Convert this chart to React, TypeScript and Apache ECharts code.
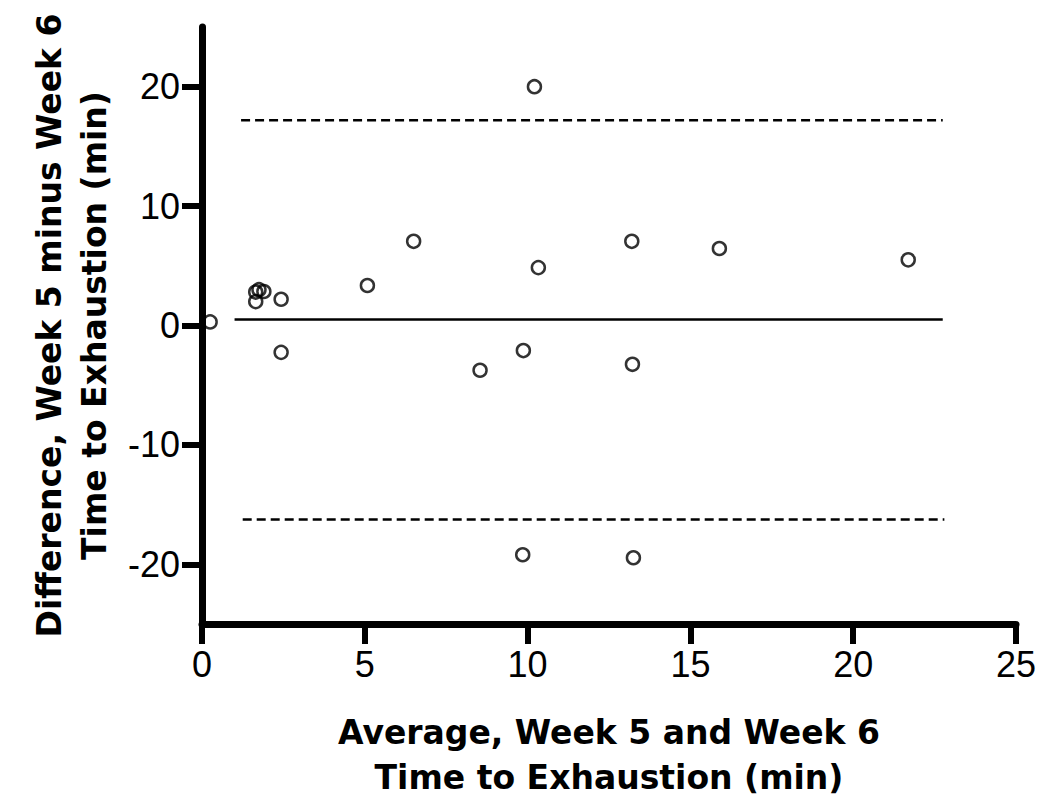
import React, { useEffect, useRef } from "react";
import * as echarts from "echarts";

const avgValues = [0.25, 1.65, 1.65, 1.75, 1.9, 2.43, 2.43, 5.08, 6.5, 8.54, 9.87, 10.21, 10.33, 13.2, 13.22, 15.89, 21.69, 9.85, 13.25];
const diffValues = [0.3, 2.0, 2.8, 3.0, 2.85, 2.2, -2.25, 3.35, 7.05, -3.75, -2.1, 20.0, 4.85, 7.05, -3.25, 6.45, 5.5, -19.2, -19.45];

const biasValue = 0.5;
const biasRange = [1.0, 22.75];
const upperLimit = 17.2;
const upperRange = [1.2, 22.75];
const lowerLimit = -16.25;
const lowerRange = [1.25, 22.8];

const xTicks = [0, 5, 10, 15, 20, 25];
const yTicks = [-20, -10, 0, 10, 20];

const xTitle = "Average, Week 5 and Week 6\nTime to Exhaustion (min)";
const yTitle = "Difference, Week 5 minus Week 6\nTime to Exhaustion (min)";

export default function App() {
  const ref = useRef<HTMLDivElement>(null);
  useEffect(() => {
    if (!ref.current) return;
    const chart = echarts.init(ref.current, null, { renderer: "svg" });
    const titleStyle = {
      fontFamily: "DejaVu Sans",
      fontWeight: "bold" as const,
      fontSize: 33,
      lineHeight: 45,
      color: "#000",
    };
    chart.setOption({
      animation: false,
      backgroundColor: "#fff",
      grid: { left: 202, right: 34, top: 27, bottom: 180, containLabel: false },
      xAxis: {
        type: "value",
        min: 0,
        max: 25,
        interval: 5,
        name: xTitle,
        nameLocation: "middle",
        nameGap: 86,
        nameTextStyle: titleStyle,
        splitLine: { show: false },
        axisLine: { onZero: false, lineStyle: { color: "#000", width: 7 } },
        axisTick: { length: 20, lineStyle: { color: "#000", width: 6 }, customValues: xTicks },
        axisLabel: {
          color: "#000",
          fontFamily: "Liberation Sans",
          fontSize: 36,
          margin: 22,
          customValues: xTicks,
        },
      },
      yAxis: {
        type: "value",
        min: -25,
        max: 25,
        name: yTitle,
        nameLocation: "middle",
        nameRotate: 90,
        nameGap: 85,
        nameTextStyle: titleStyle,
        splitLine: { show: false },
        axisLine: { onZero: false, lineStyle: { color: "#000", width: 7 } },
        axisTick: { length: 20, lineStyle: { color: "#000", width: 6 }, customValues: yTicks },
        axisLabel: {
          color: "#000",
          fontFamily: "Liberation Sans",
          fontSize: 36,
          margin: 22,
          customValues: yTicks,
        },
      },
      series: [
        {
          type: "line",
          data: biasRange.map((x) => [x, biasValue]),
          symbol: "none",
          lineStyle: { color: "#000", width: 2.5 },
          z: 2,
        },
        {
          type: "line",
          data: upperRange.map((x) => [x, upperLimit]),
          symbol: "none",
          lineStyle: { color: "#000", width: 2.5, type: [9, 5] },
          z: 2,
        },
        {
          type: "line",
          data: lowerRange.map((x) => [x, lowerLimit]),
          symbol: "none",
          lineStyle: { color: "#000", width: 2.5, type: [9, 5] },
          z: 2,
        },
        {
          type: "scatter",
          data: avgValues.map((x, i) => [x, diffValues[i]]),
          symbol: "circle",
          symbolSize: 13,
          itemStyle: { color: "rgba(255,255,255,0)", borderColor: "#000", borderWidth: 2.5 },
          z: 5,
        },
      ],
    });
    return () => chart.dispose();
  }, []);
  return (
    <div
      ref={ref}
      style={{ position: "fixed", left: 0, top: 0, width: 1050, height: 805, background: "#fff" }}
    />
  );
}
